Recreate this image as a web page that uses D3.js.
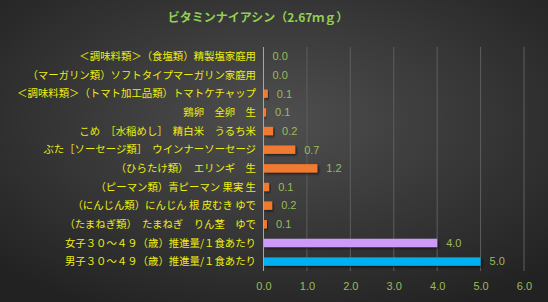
<!DOCTYPE html>
<html>
<head>
<meta charset="utf-8">
<script src="https://cdn.jsdelivr.net/npm/d3@7"></script>
<style>
  body { margin: 0; background: #333; }
  svg { display: block; }
</style>
</head>
<body>
<div id="chart"></div>
<script>
const title = "ビタミンナイアシン（2.67ｍｇ）";
const categories = [
  "＜調味料類＞（食塩類）精製塩家庭用",
  "（マーガリン類）ソフトタイプマーガリン家庭用",
  "＜調味料類＞（トマト加工品類）トマトケチャップ",
  "鶏卵　全卵　生",
  "こめ　［水稲めし］　精白米　うるち米",
  "ぶた［ソーセージ類］　ウインナーソーセージ",
  "（ひらたけ類）　エリンギ　生",
  "（ピーマン類）青ピーマン 果実 生",
  "（にんじん類）にんじん 根 皮むき ゆで",
  "（たまねぎ類）　たまねぎ　りん茎　ゆで",
  "女子３０～４９（歳）推進量/１食あたり",
  "男子３０～４９（歳）推進量/１食あたり"
];
const values = [0.0, 0.0, 0.1, 0.06, 0.22, 0.73, 1.24, 0.13, 0.2, 0.08, 4.0, 5.0];
const labels = ["0.0", "0.0", "0.1", "0.1", "0.2", "0.7", "1.2", "0.1", "0.2", "0.1", "4.0", "5.0"];
const barColors = ["#f07a30", "#f07a30", "#f07a30", "#f07a30", "#f07a30", "#f07a30",
                   "#f07a30", "#f07a30", "#f07a30", "#f07a30", "#cc9af7", "#00b0f0"];
const xTicks = [0, 1, 2, 3, 4, 5, 6];

const W = 548, H = 302;
const margin = { top: 47, right: 24, bottom: 31, left: 263.5 };

const svg = d3.select("#chart").append("svg")
  .attr("width", W).attr("height", H);

// background: dark radial gradient
const defs = svg.append("defs");
const grad = defs.append("radialGradient").attr("id", "bg")
  .attr("cx", "50%").attr("cy", "40%").attr("r", "70%");
grad.append("stop").attr("offset", "0%").attr("stop-color", "#4f4f4f");
grad.append("stop").attr("offset", "100%").attr("stop-color", "#222222");
svg.append("rect").attr("width", W).attr("height", H).attr("fill", "url(#bg)");

const shadow = defs.append("filter").attr("id", "sh")
  .attr("x", "-10%").attr("y", "-30%").attr("width", "130%").attr("height", "180%");
shadow.append("feDropShadow").attr("dx", 1.5).attr("dy", 1.5)
  .attr("stdDeviation", 1).attr("flood-color", "#000").attr("flood-opacity", 0.6);

const x = d3.scaleLinear().domain([0, 6]).range([margin.left, 524]);
const y = d3.scaleBand().domain(categories)
  .range([margin.top, H - margin.bottom]).paddingInner(0.55).paddingOuter(0.28);

// title
svg.append("text")
  .attr("x", 258).attr("y", 22)
  .attr("text-anchor", "middle")
  .attr("font-family", "'Noto Sans CJK JP', sans-serif")
  .attr("font-size", 12).attr("font-weight", "bold")
  .attr("fill", "#92d050")
  .text(title);

// gridlines
svg.append("g").selectAll("line")
  .data(xTicks.slice(1))
  .join("line")
  .attr("x1", d => x(d)).attr("x2", d => x(d))
  .attr("y1", margin.top).attr("y2", H - margin.bottom)
  .attr("stroke", "#5e5e5e").attr("stroke-width", 1);

// bars
svg.append("g").selectAll("rect")
  .data(values)
  .join("rect")
  .attr("x", x(0))
  .attr("y", (d, i) => y(categories[i]))
  .attr("width", d => x(d) - x(0))
  .attr("height", y.bandwidth())
  .attr("fill", (d, i) => barColors[i])
  .attr("filter", "url(#sh)");

// axis line
svg.append("line")
  .attr("x1", x(0)).attr("x2", x(0))
  .attr("y1", margin.top).attr("y2", H - margin.bottom)
  .attr("stroke", "#a6a6a6").attr("stroke-width", 1);

// value labels
svg.append("g").selectAll("text")
  .data(values)
  .join("text")
  .attr("x", d => x(d) + 9)
  .attr("y", (d, i) => y(categories[i]) + y.bandwidth() / 2)
  .attr("dy", "0.35em")
  .attr("font-family", "'Liberation Sans', Arial, sans-serif")
  .attr("font-size", 11)
  .attr("fill", "#9bbb59")
  .text((d, i) => labels[i]);

// category labels
svg.append("g").selectAll("text")
  .data(categories)
  .join("text")
  .attr("x", 256)
  .attr("y", d => y(d) + y.bandwidth() / 2)
  .attr("dy", "0.35em")
  .attr("text-anchor", "end")
  .attr("font-family", "'Noto Sans CJK JP', sans-serif")
  .attr("font-size", 10.4)
  .attr("fill", "#eeee10")
  .text(d => d);

// x axis tick labels
const xAxis = svg.append("g")
  .attr("transform", `translate(0,${H - margin.bottom})`)
  .call(d3.axisBottom(x).tickValues(xTicks).tickFormat(d3.format(".1f")).tickSize(0).tickPadding(11));
xAxis.select(".domain").remove();
xAxis.selectAll("text")
  .attr("font-family", "'Liberation Sans', Arial, sans-serif")
  .attr("font-size", 11)
  .attr("fill", "#9bbb59");
</script>
</body>
</html>
